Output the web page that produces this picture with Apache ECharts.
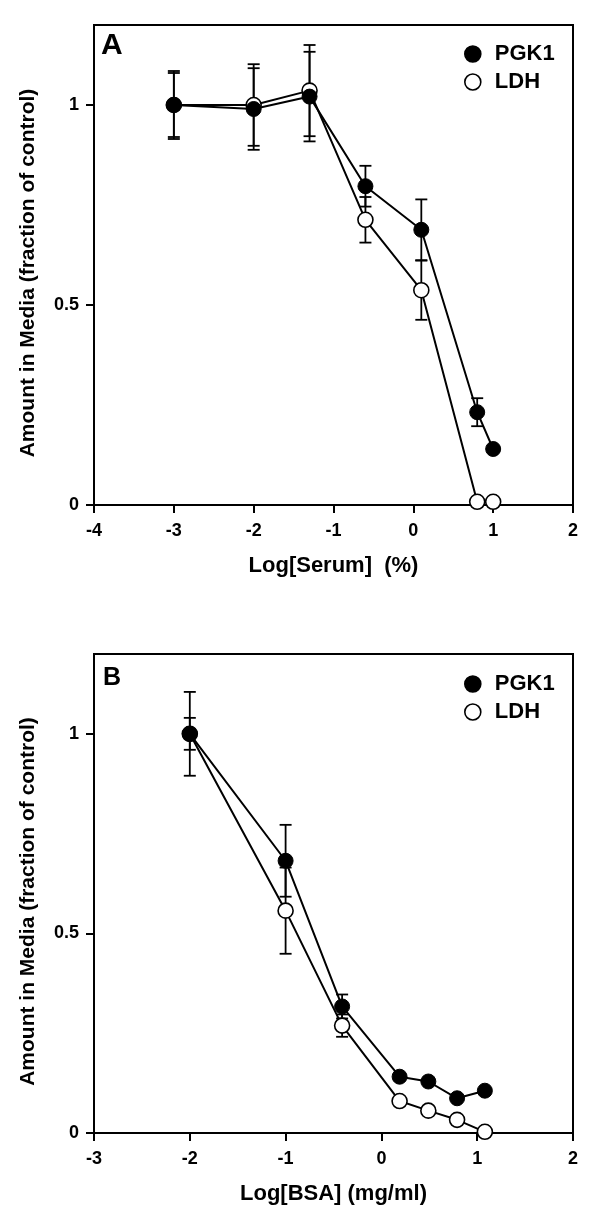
<!DOCTYPE html>
<html>
<head>
<meta charset="utf-8">
<script src="https://cdn.jsdelivr.net/npm/echarts@6/dist/echarts.min.js"></script>
<style>
html,body{margin:0;padding:0;background:#fff;}
#chart{width:600px;height:1227px;}
</style>
</head>
<body>
<div id="chart"></div>
<script>
// ---- Panel A: Log[Serum] (%)
var serumX   = [-3, -2, -1.3, -0.6, 0.1, 0.8, 1.0];
var pgk1A    = [1.0, 0.99, 1.021, 0.797, 0.688, 0.232, 0.14];
var pgk1AErr = [0.085, 0.102, 0.112, 0.051, 0.076, 0.035, 0];
var ldhA     = [1.0, 1.0, 1.036, 0.713, 0.537, 0.008, 0.008];
var ldhAErr  = [0.08, 0.102, 0.114, 0.057, 0.074, 0, 0];

// ---- Panel B: Log[BSA] (mg/ml)
var bsaX     = [-2, -1, -0.41, 0.19, 0.49, 0.79, 1.08];
var pgk1B    = [1.0, 0.682, 0.317, 0.141, 0.129, 0.087, 0.106];
var pgk1BErr = [0.04, 0.09, 0.03, 0, 0, 0, 0];
var ldhB     = [1.0, 0.557, 0.269, 0.080, 0.056, 0.033, 0.003];
var ldhBErr  = [0.105, 0.108, 0.028, 0, 0, 0, 0];

var yTicks = [0, 0.5, 1];
var seriesNames = ['PGK1', 'LDH'];
var xNameA = 'Log[Serum]  (%)';
var xNameB = 'Log[BSA] (mg/ml)';
var yName = 'Amount in Media (fraction of control)';

var FONT = '"Liberation Sans", Arial, Helvetica, sans-serif';

function pairs(xs, ys) { return xs.map(function (x, i) { return [x, ys[i]]; }); }
function errData(xs, ys, es) {
  var out = [];
  xs.forEach(function (x, i) { if (es[i] > 0) out.push([x, ys[i], es[i]]); });
  return out;
}
function errRender(params, api) {
  var x = api.value(0), y = api.value(1), e = api.value(2);
  var lo = api.coord([x, y - e]), hi = api.coord([x, y + e]);
  var hw = 6;
  var st = { stroke: '#000', lineWidth: 1.8 };
  return { type: 'group', children: [
    { type: 'line', shape: { x1: lo[0], y1: lo[1], x2: hi[0], y2: hi[1] }, style: st },
    { type: 'line', shape: { x1: lo[0] - hw, y1: lo[1], x2: lo[0] + hw, y2: lo[1] }, style: st },
    { type: 'line', shape: { x1: hi[0] - hw, y1: hi[1], x2: hi[0] + hw, y2: hi[1] }, style: st }
  ]};
}

function xAxis(idx, min, name) {
  return {
    type: 'value', gridIndex: idx, min: min, max: 2, interval: 1,
    name: name, nameLocation: 'middle', nameGap: 50,
    nameTextStyle: { fontFamily: FONT, fontWeight: 'bold', fontSize: 22, color: '#000' },
    axisLine: { show: true, onZero: false, lineStyle: { color: '#000', width: 2 } },
    axisTick: { show: true, inside: false, length: 8, lineStyle: { color: '#000', width: 2 } },
    axisLabel: { margin: 17, fontFamily: FONT, fontWeight: 'bold', fontSize: 18, color: '#000' },
    splitLine: { show: false }
  };
}
function yAxis(idx) {
  return {
    type: 'value', gridIndex: idx, min: 0, max: 1.2,
    name: yName, nameLocation: 'middle', nameGap: 55,
    nameTextStyle: { fontFamily: FONT, fontWeight: 'bold', fontSize: 21, color: '#000', padding: [0, 16, 0, 0] },
    axisLine: { show: true, onZero: false, lineStyle: { color: '#000', width: 2 } },
    axisTick: { show: true, inside: false, length: 8, customValues: yTicks, lineStyle: { color: '#000', width: 2 } },
    axisLabel: { margin: 15, customValues: yTicks, fontFamily: FONT, fontWeight: 'bold', fontSize: 18, color: '#000' },
    splitLine: { show: false }
  };
}
function lineSeries(name, idx, data, filled, z) {
  return {
    type: 'line', name: name, xAxisIndex: idx, yAxisIndex: idx, data: data,
    symbol: 'circle', symbolSize: 15, z: z,
    lineStyle: { color: '#000', width: 2 },
    itemStyle: filled ? { color: '#000', borderColor: '#000', borderWidth: 1 }
                      : { color: '#fff', borderColor: '#000', borderWidth: 1.6 },
    emphasis: { disabled: true }
  };
}
function errSeries(idx, data) {
  return { type: 'custom', xAxisIndex: idx, yAxisIndex: idx, data: data,
           renderItem: errRender, z: 1, clip: false, silent: true };
}
function legend(top) {
  return {
    data: seriesNames, orient: 'vertical', left: 464, top: top, padding: 0,
    icon: 'circle', itemWidth: 34, itemHeight: 16, itemGap: 6,
    itemStyle: { borderWidth: 1.6, borderColor: '#000' },
    textStyle: { fontFamily: FONT, fontWeight: 'bold', fontSize: 22, color: '#000', lineHeight: 20 },
    selectedMode: false
  };
}

var chart = echarts.init(document.getElementById('chart'), null, { renderer: 'canvas' });
chart.setOption({
  animation: false,
  backgroundColor: '#fff',
  grid: [
    { left: 94, top: 25, width: 479, height: 480, show: true, borderColor: '#000', borderWidth: 2, backgroundColor: 'transparent' },
    { left: 94, top: 654, width: 479, height: 479, show: true, borderColor: '#000', borderWidth: 2, backgroundColor: 'transparent' }
  ],
  xAxis: [ xAxis(0, -4, xNameA), xAxis(1, -3, xNameB) ],
  yAxis: [ yAxis(0), yAxis(1) ],
  legend: [ legend(43), legend(673) ],
  graphic: [
    { type: 'text', left: 101, top: 31, style: { text: 'A', font: 'bold 30px ' + FONT, fill: '#000' } },
    { type: 'text', left: 103, top: 666, style: { text: 'B', font: 'bold 25px ' + FONT, fill: '#000' } }
  ],
  series: [
    errSeries(0, errData(serumX, ldhA, ldhAErr)),
    errSeries(0, errData(serumX, pgk1A, pgk1AErr)),
    lineSeries('LDH', 0, pairs(serumX, ldhA), false, 2),
    lineSeries('PGK1', 0, pairs(serumX, pgk1A), true, 3),
    errSeries(1, errData(bsaX, ldhB, ldhBErr)),
    errSeries(1, errData(bsaX, pgk1B, pgk1BErr)),
    lineSeries('LDH', 1, pairs(bsaX, ldhB), false, 2),
    lineSeries('PGK1', 1, pairs(bsaX, pgk1B), true, 3)
  ]
});
</script>
</body>
</html>
